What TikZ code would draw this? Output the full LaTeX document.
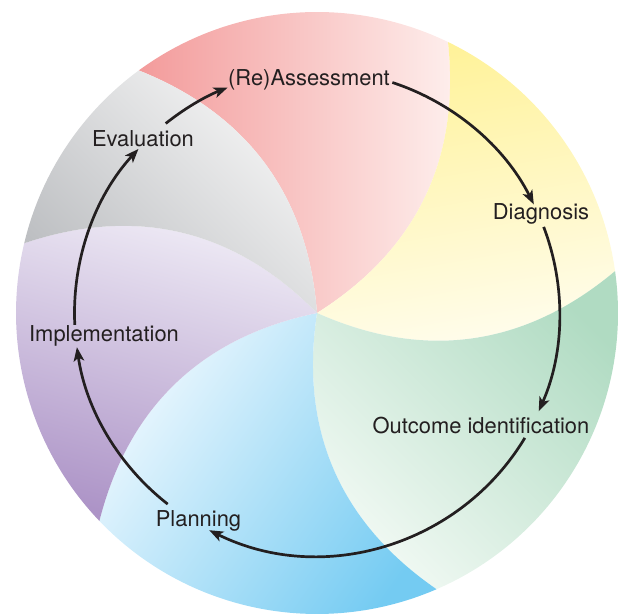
\documentclass[tikz,border=0pt]{standalone}
\usepackage{fontspec}
\setmainfont{TeX Gyre Heros}
\usetikzlibrary{arrows.meta}
\definecolor{redA}{HTML}{F39B9B}
\definecolor{redB}{HTML}{FEF0EE}
\definecolor{yelA}{HTML}{FFF299}
\definecolor{yelB}{HTML}{FFFDF0}
\definecolor{grnA}{HTML}{B0DBC2}
\definecolor{grnB}{HTML}{F3FAF5}
\definecolor{bluA}{HTML}{EEF8FE}
\definecolor{bluB}{HTML}{74CBF2}
\definecolor{purA}{HTML}{F1EEF7}
\definecolor{purB}{HTML}{AD94C7}
\definecolor{gryA}{HTML}{F6F6F6}
\definecolor{gryB}{HTML}{BDBFC2}
\definecolor{ink}{HTML}{231F20}
\tikzset{
  lbl/.style={font=\fontsize{21.9}{26}\selectfont, text=ink, inner sep=0pt, anchor=base},
  arr/.style={draw=ink, line width=2.7pt, -{Stealth[length=14pt,width=10.5pt,inset=3.5pt]}},
  petal/.style={draw=none}
}
\begin{document}
\begin{tikzpicture}[x=1pt,y=1pt]
\useasboundingbox (-317,-302) rectangle (302,313);
\coordinate (C) at (0,0);
\coordinate (P1) at (126.3:301);
\coordinate (P2) at (64.2:301);
\coordinate (P3) at (8:301);
\coordinate (P4) at (-66.6:301);
\coordinate (P5) at (-136.3:301);
\coordinate (P6) at (-193.4:301);
% petals
\shade[petal, left color=redA, right color=redB]
  (C) to[bend right=32] (P1) arc[start angle=126.3, end angle=64.2, radius=301pt] to[bend left=32] (C) -- cycle;
\shade[petal, top color=yelA, bottom color=yelB, shading angle=10]
  (C) to[bend right=32] (P2) arc[start angle=64.2, end angle=8, radius=301pt] to[bend left=32] (C) -- cycle;
\shade[petal, top color=grnA, bottom color=grnB, shading angle=-45]
  (C) to[bend right=32] (P3) arc[start angle=8, end angle=-66.6, radius=301pt] to[bend left=32] (C) -- cycle;
\shade[petal, top color=bluA, bottom color=bluB, shading angle=55]
  (C) to[bend right=32] (P4) arc[start angle=-66.6, end angle=-136.3, radius=301pt] to[bend left=32] (C) -- cycle;
\shade[petal, top color=purA, bottom color=purB, shading angle=-15]
  (C) to[bend right=32] (P5) arc[start angle=-136.3, end angle=-193.4, radius=301pt] to[bend left=32] (C) -- cycle;
\shade[petal, top color=gryA, bottom color=gryB, shading angle=-45]
  (C) to[bend right=32] (P6) arc[start angle=-193.4, end angle=-233.7, radius=301pt] to[bend left=32] (C) -- cycle;
% labels
\node[lbl] (assess) at (-8,227) {(Re)Assessment};
\node[lbl] (diag) at (224,93) {Diagnosis};
\node[lbl] (outc) at (164,-121) {Outcome identification};
\node[lbl] (plan) at (-118.5,-214) {Planning};
\node[lbl] (impl) at (-213,-29) {Implementation};
\node[lbl] (eval) at (-174,166) {Evaluation};
% connector ends on the ring
\coordinate (s1) at (128.6:242.5); \coordinate (e1) at (111.6:242.5);
\coordinate (s2) at (71.9:242.5);  \coordinate (e2) at (26.6:242.5);
\coordinate (s3) at (20.8:242.5);  \coordinate (e3) at (-23.9:242.5);
\coordinate (s4) at (-31.0:242.5); \coordinate (e4) at (-116.4:242.5);
\coordinate (s5) at (-128.0:242.5);\coordinate (e5) at (-171.9:242.5);
\coordinate (s6) at (-177.2:242.5);\coordinate (e6) at (-222.6:242.5);
\draw[arr] (s1) to[bend left=8.5, looseness=0.86] (e1);
\draw[arr] (s2) to[bend left=22.65, looseness=0.885] (e2);
\draw[arr] (s3) to[bend left=22.35, looseness=0.885] (e3);
\draw[arr] (s4) to[bend left=42.7, looseness=0.98] (e4);
\draw[arr] (s5) to[bend left=21.95, looseness=0.885] (e5);
\draw[arr] (s6) to[bend left=22.7, looseness=0.885] (e6);
\end{tikzpicture}
\end{document}
